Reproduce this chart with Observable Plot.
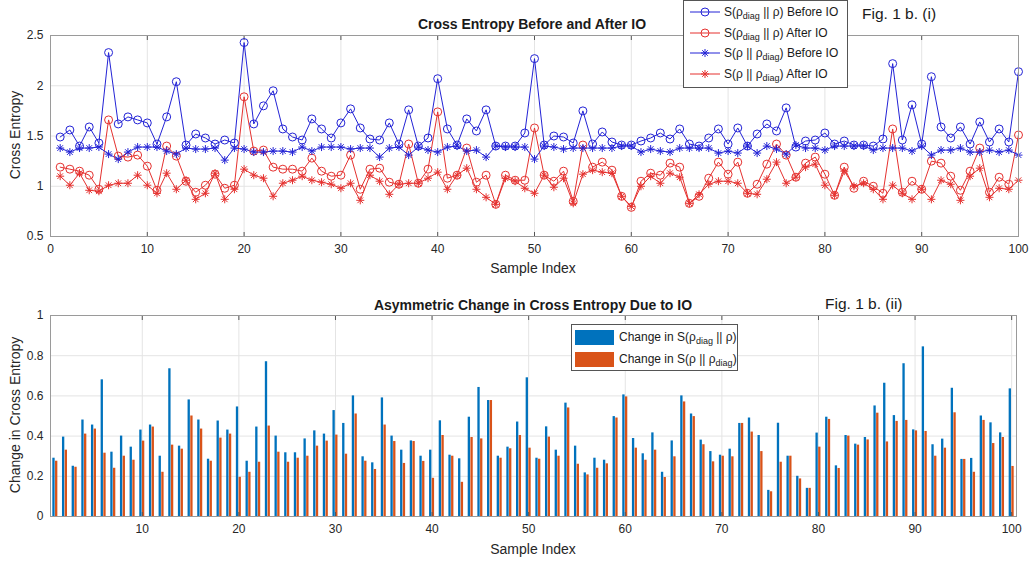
<!DOCTYPE html>
<html>
<head>
<meta charset="utf-8">
<script src="https://cdn.jsdelivr.net/npm/d3@7"></script>
<script src="https://cdn.jsdelivr.net/npm/@observablehq/plot@0.6"></script>
<style>
  body { margin: 0; background: #fff; }
  #wrap { position: relative; width: 1029px; height: 565px; background: #fff;
          font-family: "Liberation Sans", Arial, Helvetica, sans-serif; color: #262626; overflow: hidden; }
  .abs { position: absolute; white-space: nowrap; }
  .c { transform: translate(-50%, -50%); }
  .title { font-weight: bold; font-size: 14px; color: #1a1a1a; }
  .axlab { font-size: 14px; color: #262626; }
  .fig { font-size: 15.5px; color: #1a1a1a; }
  .leg { background: #fff; border: 1px solid #555; font-size: 12px; color: #1a1a1a; }
  .leg sub { font-size: 9px; vertical-align: -3px; line-height: 0; }
  .row { position: absolute; left: 0; display: flex; align-items: center; height: 18px; }
  .row svg { margin-left: 6px; margin-right: 4px; }
  .sw { width: 39px; height: 15px; margin-left: 3px; margin-right: 5px; }
  .yl { transform: translate(-50%, -50%) rotate(-90deg); }
</style>
</head>
<body>
<div id="wrap">
  <div id="top" class="abs" style="left:0;top:0"></div>
  <div id="bot" class="abs" style="left:0;top:285px"></div>

  <div class="abs c title" style="left:532px;top:24px">Cross Entropy Before and After IO</div>
  <div class="abs fig" style="left:862px;top:5px">Fig. 1 b. (i)</div>
  <div class="abs c axlab" style="left:533px;top:268px">Sample Index</div>
  <div class="abs axlab yl" style="left:15px;top:135px">Cross Entropy</div>

  <div class="abs leg" id="legTop" style="left:683px;top:0px;width:163px;height:86px"></div>

  <div class="abs c title" style="left:533px;top:305px">Asymmetric Change in Cross Entropy Due to IO</div>
  <div class="abs fig" style="left:825px;top:295px">Fig. 1 b. (ii)</div>
  <div class="abs c axlab" style="left:533px;top:549px">Sample Index</div>
  <div class="abs axlab yl" style="left:15px;top:415px">Change in Cross Entropy</div>

  <div class="abs leg" id="legBot" style="left:571px;top:324px;width:165px;height:45px"></div>
</div>
<script>
// ---------- data ----------
const sampleIndex = d3.range(1, 101);

const beforeDiagRho = [
  1.49,1.56,1.40,1.59,1.43,2.33,1.62,1.69,1.66,1.63,
  1.42,1.69,2.04,1.41,1.52,1.48,1.42,1.46,1.43,2.43,
  1.62,1.80,1.95,1.57,1.49,1.46,1.67,1.57,1.48,1.63,
  1.77,1.58,1.47,1.46,1.63,1.42,1.76,1.40,1.48,2.07,
  1.57,1.41,1.67,1.55,1.76,1.40,1.40,1.40,1.53,2.27,
  1.41,1.50,1.49,1.43,1.75,1.42,1.54,1.44,1.41,1.41,
  1.45,1.48,1.53,1.47,1.57,1.42,1.40,1.48,1.57,1.42,
  1.58,1.40,1.52,1.62,1.55,1.78,1.39,1.45,1.46,1.53,
  1.42,1.45,1.41,1.41,1.40,1.47,2.22,1.46,1.81,1.42,
  2.09,1.59,1.48,1.59,1.42,1.64,1.44,1.57,1.44,2.14
];
const afterDiagRho = [
  1.19,1.17,1.15,1.11,0.97,1.66,1.30,1.29,1.31,1.20,
  0.96,1.40,1.30,1.05,0.94,1.01,1.12,0.98,1.01,1.89,
  1.35,1.36,1.19,1.17,1.17,1.15,1.28,1.15,1.10,1.11,
  1.31,0.97,1.17,1.18,1.04,1.02,1.42,1.03,1.17,1.74,
  1.08,1.11,1.38,1.04,1.11,0.82,1.11,1.06,1.06,1.58,
  1.11,1.05,1.15,0.85,1.41,1.19,1.24,1.16,0.90,0.79,
  1.05,1.13,1.11,1.23,1.19,0.83,0.90,1.08,1.24,1.12,
  1.24,0.93,1.02,1.22,1.42,1.31,1.09,1.23,1.29,1.12,
  0.91,1.19,0.98,1.05,1.00,0.93,1.57,0.94,1.05,0.97,
  1.25,1.23,1.10,0.96,1.15,1.38,0.94,1.09,1.02,1.51
];
const beforeRhoDiag = [
  1.38,1.34,1.38,1.38,1.39,1.32,1.27,1.34,1.39,1.39,
  1.39,1.35,1.32,1.38,1.37,1.37,1.38,1.26,1.38,1.37,
  1.34,1.34,1.35,1.35,1.34,1.39,1.35,1.39,1.39,1.39,
  1.37,1.38,1.38,1.29,1.38,1.39,1.31,1.39,1.36,1.34,
  1.39,1.40,1.35,1.36,1.29,1.40,1.39,1.39,1.39,1.27,
  1.40,1.39,1.37,1.38,1.38,1.38,1.38,1.38,1.40,1.40,
  1.34,1.37,1.35,1.34,1.38,1.38,1.38,1.38,1.33,1.35,
  1.33,1.40,1.33,1.40,1.37,1.32,1.41,1.38,1.38,1.36,
  1.40,1.40,1.40,1.40,1.36,1.38,1.38,1.38,1.35,1.40,
  1.31,1.36,1.36,1.38,1.34,1.34,1.36,1.34,1.36,1.31
];
const afterRhoDiag = [
  1.10,1.01,1.13,0.96,0.95,1.01,1.03,1.03,1.11,1.01,
  0.93,1.13,0.97,1.06,0.87,0.93,1.13,0.87,0.97,1.17,
  1.11,1.08,0.90,1.03,1.06,1.10,1.06,1.04,1.02,0.98,
  1.03,0.86,1.11,1.05,0.92,1.02,1.03,1.03,1.08,1.14,
  0.97,1.11,1.18,0.97,0.89,0.82,1.08,1.05,0.98,0.93,
  1.11,0.99,1.08,0.83,1.12,1.16,1.14,1.13,0.90,0.80,
  1.00,1.10,1.03,1.13,1.09,0.83,0.92,1.02,1.05,1.05,
  1.03,0.93,0.92,1.07,1.24,1.03,1.09,1.19,1.22,1.01,
  0.91,1.15,1.00,1.03,0.97,0.87,1.01,0.93,0.87,0.97,
  0.87,1.06,1.02,0.86,1.10,1.18,0.89,0.98,0.97,1.06
];
const changeDiagRho = [
  0.29,0.395,0.25,0.48,0.455,0.68,0.32,0.40,0.345,0.43,
  0.455,0.30,0.735,0.35,0.58,0.48,0.285,0.475,0.43,0.545,
  0.275,0.445,0.77,0.40,0.317,0.317,0.386,0.426,0.41,0.527,
  0.463,0.60,0.297,0.267,0.59,0.40,0.33,0.376,0.30,0.33,
  0.476,0.305,0.287,0.494,0.642,0.577,0.30,0.345,0.47,0.69,
  0.29,0.446,0.33,0.564,0.35,0.217,0.29,0.28,0.497,0.605,
  0.388,0.312,0.416,0.22,0.376,0.60,0.51,0.38,0.323,0.305,
  0.335,0.463,0.49,0.403,0.13,0.464,0.30,0.20,0.14,0.415,
  0.494,0.252,0.403,0.36,0.393,0.55,0.663,0.502,0.76,0.431,
  0.844,0.357,0.385,0.638,0.284,0.289,0.50,0.466,0.416,0.635
];
const changeRhoDiag = [
  0.275,0.33,0.245,0.41,0.435,0.315,0.24,0.30,0.28,0.375,
  0.445,0.22,0.355,0.335,0.50,0.435,0.275,0.39,0.41,0.195,
  0.22,0.27,0.45,0.32,0.27,0.29,0.30,0.35,0.375,0.405,
  0.31,0.51,0.275,0.234,0.455,0.373,0.264,0.373,0.274,0.19,
  0.403,0.30,0.17,0.393,0.386,0.577,0.29,0.337,0.403,0.34,
  0.285,0.395,0.30,0.54,0.26,0.207,0.24,0.262,0.49,0.595,
  0.34,0.28,0.33,0.194,0.297,0.57,0.497,0.357,0.272,0.30,
  0.297,0.463,0.42,0.323,0.123,0.27,0.30,0.187,0.14,0.345,
  0.483,0.239,0.40,0.355,0.381,0.514,0.371,0.473,0.478,0.426,
  0.423,0.30,0.34,0.516,0.284,0.22,0.478,0.363,0.393,0.249
];

const topXTicks = [0,10,20,30,40,50,60,70,80,90,100];
const topYTicks = [0.5,1,1.5,2,2.5];
const botXTicks = [10,20,30,40,50,60,70,80,90,100];
const botYTicks = [0,0.2,0.4,0.6,0.8,1];

const seriesNames = [
  "S(ρdiag || ρ) Before IO", "S(ρdiag || ρ) After IO",
  "S(ρ || ρdiag) Before IO", "S(ρ || ρdiag) After IO"
];
const barNames = ["Change in S(ρdiag || ρ)", "Change in S(ρ || ρdiag)"];

// ---------- styles ----------
const BLUE = "#2323d6", RED = "#e5312f";
const BAR1 = "#0072BD", BAR2 = "#D95319";
const GRID = "#e4e4e4", FRAME = "#9a9a9a", TICK = "#555";

// 8-arm asterisk (MATLAB '*')
const star8 = {
  draw(ctx, size) {
    const r = Math.sqrt(size / Math.PI), d = r * Math.SQRT1_2;
    ctx.moveTo(-r, 0); ctx.lineTo(r, 0);
    ctx.moveTo(0, -r); ctx.lineTo(0, r);
    ctx.moveTo(-d, -d); ctx.lineTo(d, d);
    ctx.moveTo(-d, d); ctx.lineTo(d, -d);
  }
};

const mk = (arr) => sampleIndex.map((i, k) => ({i, v: arr[k]}));
const sA = mk(beforeDiagRho), sB = mk(afterDiagRho), sC = mk(beforeRhoDiag), sD = mk(afterRhoDiag);

const fontStyle = {fontFamily: '"Liberation Sans", Arial, sans-serif', fontSize: "12px", color: "#262626", background: "transparent"};

// inward ticks (MATLAB style) on bottom and top edges
const inwardTicks = (ticks) => [
  Plot.axisX(ticks, {anchor: "bottom", tickSize: -4, tickPadding: 12, stroke: TICK, label: null, tickFormat: d => String(d)}),
  Plot.axisX(ticks, {anchor: "top", tickSize: -4, stroke: TICK, label: null, tickFormat: () => ""})
];

const topPlot = Plot.plot({
  width: 1029, height: 285,
  marginTop: 35, marginBottom: 49, marginLeft: 50, marginRight: 11,
  style: fontStyle,
  x: {domain: [0, 100]},
  y: {domain: [0.5, 2.5]},
  marks: [
    Plot.gridX(topXTicks, {stroke: GRID, strokeOpacity: 1}),
    Plot.gridY(topYTicks, {stroke: GRID, strokeOpacity: 1}),
    ...inwardTicks(topXTicks),
    Plot.axisY(topYTicks, {tickSize: 0, tickPadding: 7, label: null, tickFormat: d => String(d)}),
    Plot.line(sA, {x: "i", y: "v", stroke: BLUE, strokeWidth: 1}),
    Plot.line(sB, {x: "i", y: "v", stroke: RED, strokeWidth: 1}),
    Plot.line(sC, {x: "i", y: "v", stroke: BLUE, strokeWidth: 1}),
    Plot.line(sD, {x: "i", y: "v", stroke: RED, strokeWidth: 1}),
    Plot.dot(sA, {x: "i", y: "v", r: 4, stroke: BLUE, fill: "none", strokeWidth: 1}),
    Plot.dot(sB, {x: "i", y: "v", r: 4, stroke: RED, fill: "none", strokeWidth: 1}),
    Plot.dot(sC, {x: "i", y: "v", r: 4, symbol: star8, stroke: BLUE, fill: "none", strokeWidth: 1}),
    Plot.dot(sD, {x: "i", y: "v", r: 4, symbol: star8, stroke: RED, fill: "none", strokeWidth: 1}),
    Plot.frame({stroke: FRAME})
  ]
});
document.getElementById("top").appendChild(topPlot);

const barData = sampleIndex.map((i, k) => ({i, a: changeDiagRho[k], b: changeRhoDiag[k]}));

const botPlot = Plot.plot({
  width: 1029, height: 280,
  marginTop: 30, marginBottom: 49, marginLeft: 50, marginRight: 13,
  style: fontStyle,
  x: {domain: [0.5, 100.5]},
  y: {domain: [0, 1]},
  marks: [
    Plot.gridX(botXTicks, {stroke: GRID, strokeOpacity: 1}),
    Plot.gridY(botYTicks, {stroke: GRID, strokeOpacity: 1}),
    Plot.axisY(botYTicks, {tickSize: 0, tickPadding: 7, label: null, tickFormat: d => String(d)}),
    Plot.rectY(barData, {x1: d => d.i - 0.26, x2: d => d.i - 0.02, y: "a", fill: BAR1}),
    Plot.rectY(barData, {x1: d => d.i + 0.02, x2: d => d.i + 0.26, y: "b", fill: BAR2}),
    ...inwardTicks(botXTicks),
    Plot.frame({stroke: FRAME})
  ]
});
document.getElementById("bot").appendChild(botPlot);

// ---------- legends ----------
function fmtName(s) {
  return s.replace(/ρdiag/g, "ρ<sub>diag</sub>");
}
const legTop = document.getElementById("legTop");
const rowY = [2, 23, 43, 64];
const legSpec = [
  {c: BLUE, m: "o"}, {c: RED, m: "o"}, {c: BLUE, m: "*"}, {c: RED, m: "*"}
];
seriesNames.forEach((name, k) => {
  const row = document.createElement("div");
  row.className = "row";
  row.style.top = rowY[k] + "px";
  const {c, m} = legSpec[k];
  const glyph = m === "o"
    ? `<circle cx="15" cy="7" r="4" fill="none" stroke="${c}"/>`
    : `<path d="M11,7H19M15,3V11M12.2,4.2L17.8,9.8M12.2,9.8L17.8,4.2" stroke="${c}" fill="none"/>`;
  row.innerHTML = `<svg width="30" height="14"><line x1="0" x2="30" y1="7" y2="7" stroke="${c}"/>${glyph}</svg><span>${fmtName(name)}</span>`;
  legTop.appendChild(row);
});

const legBot = document.getElementById("legBot");
[BAR1, BAR2].forEach((col, k) => {
  const row = document.createElement("div");
  row.className = "row";
  row.style.top = (3 + k * 22) + "px";
  row.innerHTML = `<div class="sw" style="background:${col}"></div><span>${fmtName(barNames[k])}</span>`;
  legBot.appendChild(row);
});
</script>
</body>
</html>
